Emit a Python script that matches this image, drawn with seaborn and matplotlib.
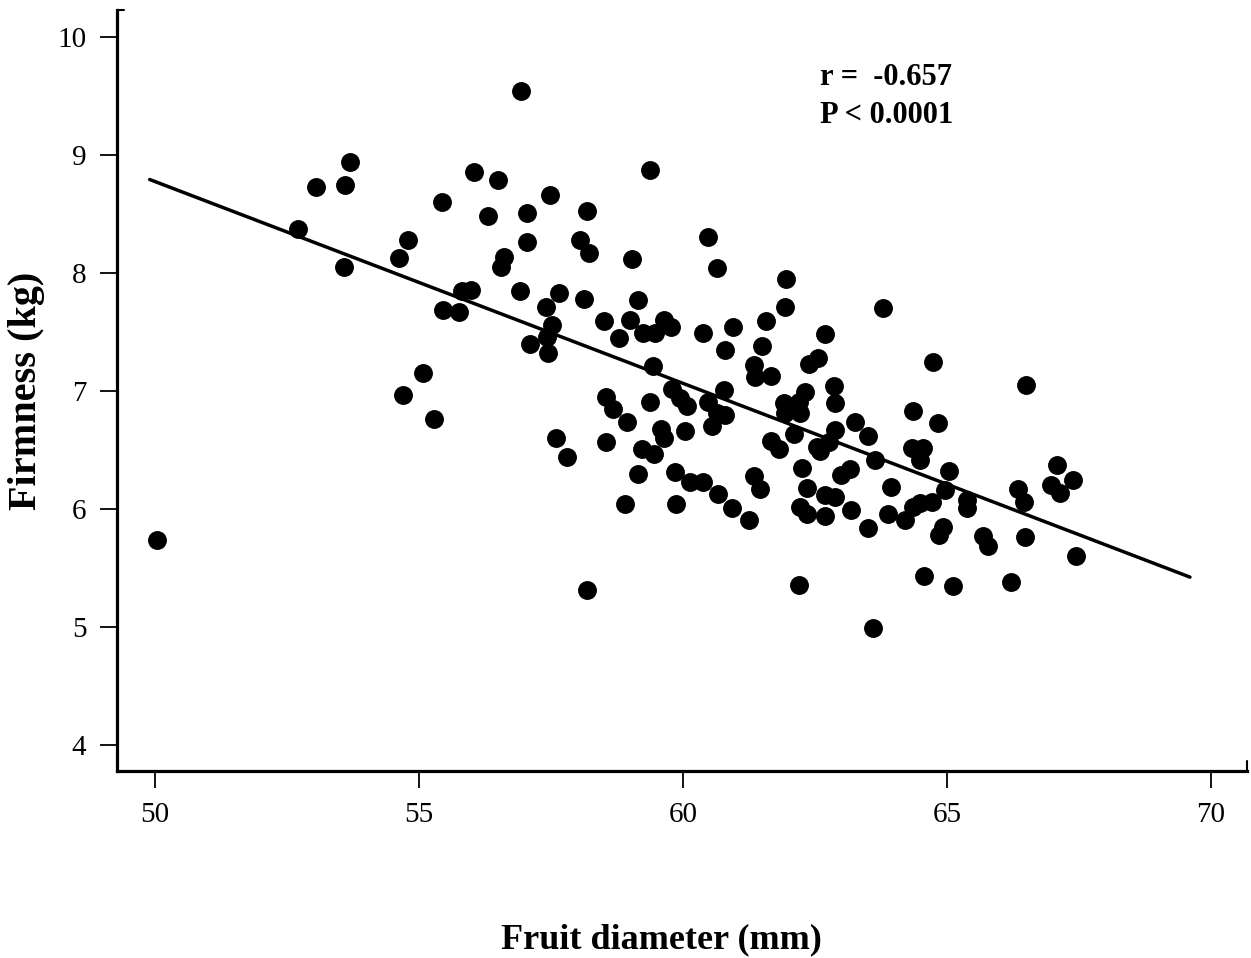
import numpy as np
import pandas as pd
import seaborn as sns
import matplotlib.pyplot as plt

# Fruit diameter (mm) et fermeté (kg)
diametre = [50.04, 52.71, 53.05, 53.60, 53.69, 53.58, 54.80, 54.63, 54.70, 55.08,
            55.28, 55.43, 55.46, 55.76, 55.81, 55.98, 56.04, 56.49, 56.31, 56.60,
            56.55, 56.93, 57.04, 57.04, 56.91, 57.10, 57.41, 57.51, 57.42, 57.45,
            57.48, 57.66, 57.59, 57.80, 58.05, 58.18, 58.21, 58.13, 58.18, 58.51,
            58.55, 58.68, 58.55, 58.79, 58.93, 58.91, 59.00, 59.04, 59.15, 59.14,
            59.22, 59.25, 59.45, 59.47, 59.38, 59.38, 59.44, 59.58, 59.63, 59.63,
            59.78, 59.80, 59.94, 60.07, 60.04, 59.85, 59.87, 60.13, 60.38, 60.37,
            60.47, 60.64, 60.48, 60.64, 60.54, 60.78, 60.80, 60.79, 60.67, 60.94,
            60.92, 61.24, 61.35, 61.36, 61.35, 61.46, 61.49, 61.57, 61.67, 61.67,
            61.82, 61.95, 61.94, 62.31, 62.20, 61.91, 61.93, 62.22, 62.10, 62.25,
            62.35, 62.22, 62.34, 62.20, 62.39, 62.56, 62.68, 62.54, 62.59, 62.76,
            62.88, 62.85, 62.87, 62.69, 62.88, 62.69, 63.16, 63.00, 63.26, 63.19,
            63.51, 63.64, 63.51, 63.59, 63.78, 63.93, 63.89, 64.20, 64.36, 64.49,
            64.71, 64.36, 64.33, 64.55, 64.48, 64.74, 64.82, 64.56, 65.03, 64.96,
            64.93, 64.84, 65.12, 65.37, 65.37, 65.69, 65.78, 66.22, 66.35, 66.46,
            66.48, 66.50, 66.97, 67.09, 67.13, 67.39, 67.44]
fermete = [5.74, 8.37, 8.73, 8.75, 8.94, 8.05, 8.28, 8.13, 6.97, 7.15,
           6.76, 8.60, 7.69, 7.67, 7.85, 7.86, 8.86, 8.79, 8.48, 8.14,
           8.05, 9.54, 8.51, 8.26, 7.85, 7.40, 7.71, 7.56, 7.46, 7.32,
           8.66, 7.83, 6.60, 6.44, 8.28, 8.53, 8.17, 7.78, 5.31, 7.59,
           6.95, 6.85, 6.57, 7.45, 6.74, 6.04, 7.60, 8.12, 7.77, 6.30,
           6.51, 7.49, 6.47, 7.49, 8.87, 6.91, 7.21, 6.68, 6.60, 7.60,
           7.54, 7.02, 6.94, 6.87, 6.66, 6.31, 6.04, 6.23, 6.23, 7.49,
           8.31, 8.04, 6.91, 6.81, 6.70, 7.01, 6.80, 7.35, 6.13, 7.54,
           6.01, 5.91, 7.22, 7.12, 6.28, 6.17, 7.38, 7.59, 7.13, 6.58,
           6.51, 7.95, 7.71, 6.99, 6.91, 6.90, 6.81, 6.81, 6.64, 6.35,
           6.18, 6.02, 5.96, 5.36, 7.23, 7.28, 7.48, 6.53, 6.49, 6.57,
           6.67, 7.04, 6.90, 6.12, 6.10, 5.94, 6.34, 6.29, 6.74, 5.99,
           6.62, 6.42, 5.84, 4.99, 7.70, 6.19, 5.96, 5.91, 6.02, 6.05,
           6.06, 6.83, 6.52, 6.52, 6.42, 7.25, 6.73, 5.43, 6.32, 6.16,
           5.85, 5.78, 5.35, 6.08, 6.01, 5.77, 5.69, 5.38, 6.17, 6.06,
           5.76, 7.05, 6.20, 6.37, 6.14, 6.25, 5.60]

x_ticks = [50, 55, 60, 65, 70]
y_ticks = [4, 5, 6, 7, 8, 9, 10]
stats_txt = "r =  -0.657\nP < 0.0001"

df = pd.DataFrame({'diametre': diametre, 'fermete': fermete})

sns.set_style("ticks")
plt.rcParams['font.family'] = ['Liberation Serif', 'DejaVu Serif']
plt.rcParams['text.color'] = 'black'
plt.rcParams['axes.labelcolor'] = 'black'

fig = plt.figure(figsize=(12.51, 9.58), dpi=100)
ax = fig.add_axes([0.0935, 0.1952, 0.9033, 0.7944])

# nuage de points
sns.scatterplot(data=df, x='diametre', y='fermete', color='black', s=185,
                linewidth=0, ax=ax, zorder=3)

# droite de régression (étendue sur la plage de la figure originale)
ax.set_xlim(49.9, 69.6)
sns.regplot(data=df, x='diametre', y='fermete', scatter=False, ci=None,
            truncate=False, color='black', line_kws={'lw': 2.5}, ax=ax)

ax.set_xlim(49.28, 70.68)
ax.set_ylim(3.78, 10.23)
ax.set_xticks(x_ticks)
ax.set_yticks(y_ticks)
ax.tick_params(axis='both', direction='out', length=12, width=1.3,
               labelsize=21, pad=10, colors='black')

sns.despine(ax=ax)
for s in ['left', 'bottom']:
    ax.spines[s].set_linewidth(2.3)
    ax.spines[s].set_color('black')

# petits crochets aux extrémités des axes
ax.plot([0, 0.006], [1, 1], transform=ax.transAxes, color='black', lw=1.5, clip_on=False)
ax.plot([1, 1], [0, 0.013], transform=ax.transAxes, color='black', lw=1.5, clip_on=False)

ax.set_xlabel('Fruit diameter (mm)', fontsize=26, fontweight='bold')
ax.set_ylabel('Firmness (kg)', fontsize=29, fontweight='bold')
ax.xaxis.set_label_coords(0.482, -0.200)
ax.yaxis.set_label_coords(-0.064, 0.50)

fig.text(820 / 1251, 1 - 63 / 958, stats_txt, fontsize=22, fontweight='bold',
         va='top', ha='left', linespacing=1.4)

plt.savefig('out.png', dpi=100)
